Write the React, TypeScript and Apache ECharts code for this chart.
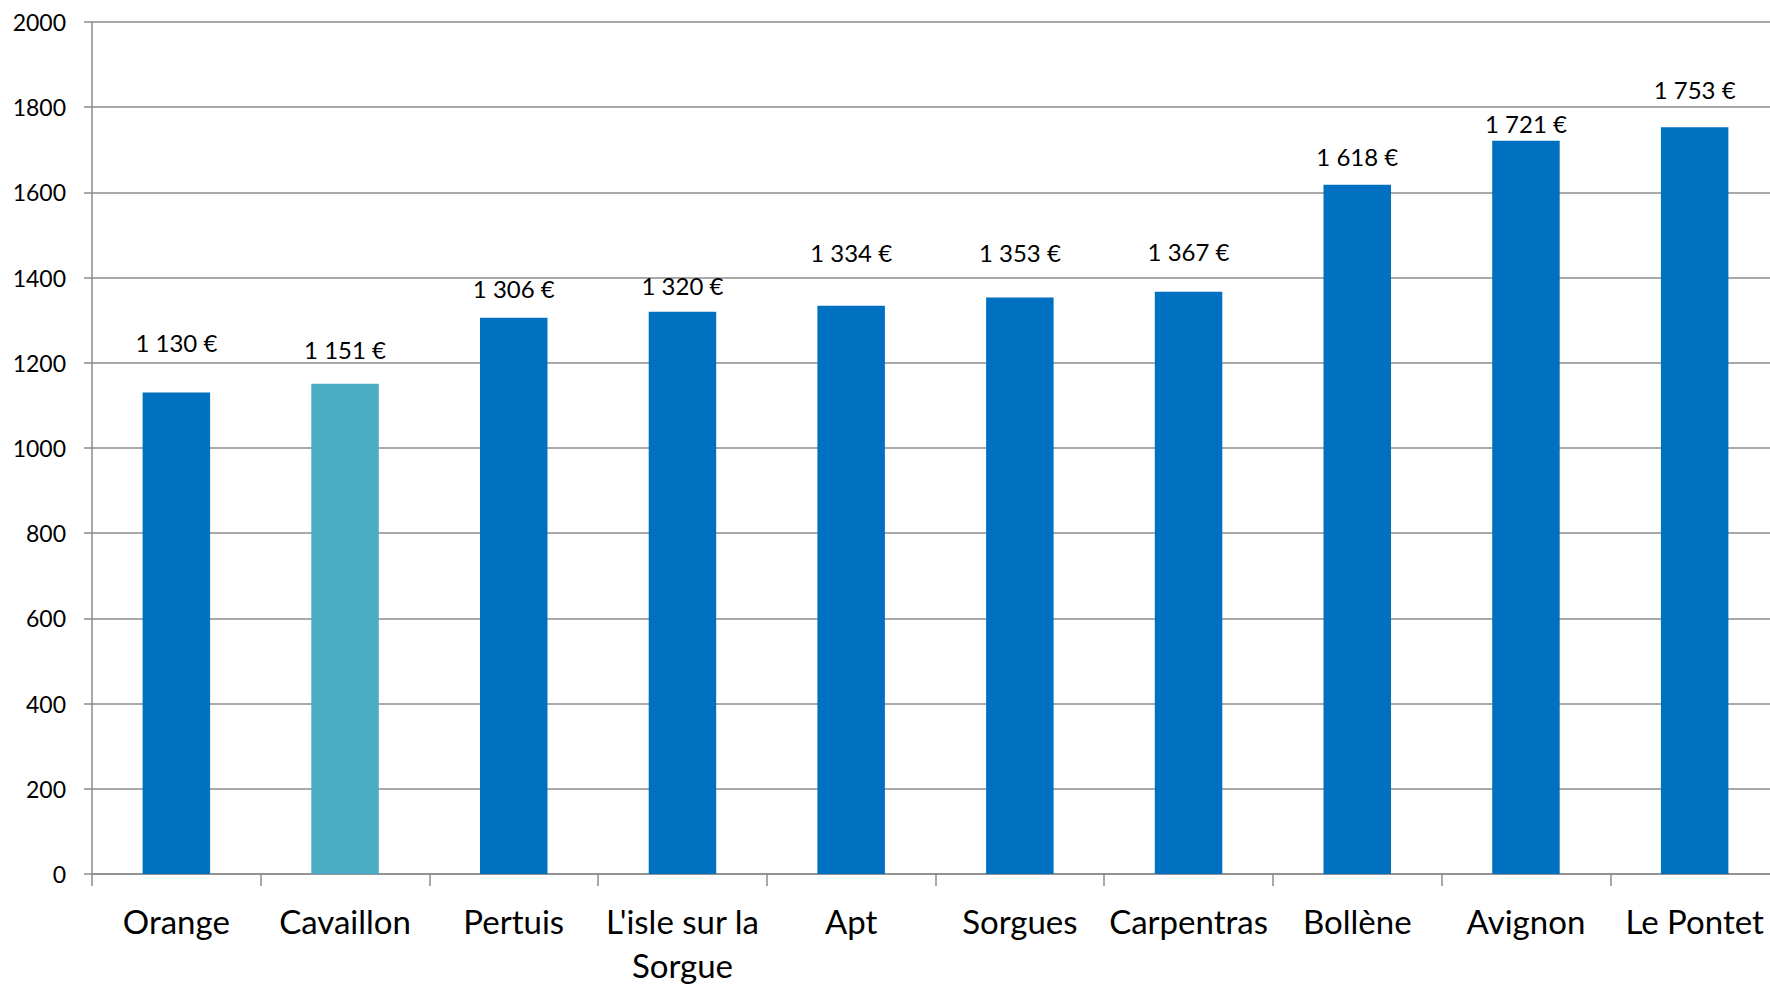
import React, { useEffect, useRef } from "react";
import * as echarts from "echarts";

const categories: string[] = [
  "Orange",
  "Cavaillon",
  "Pertuis",
  "L'isle sur la Sorgue",
  "Apt",
  "Sorgues",
  "Carpentras",
  "Bollène",
  "Avignon",
  "Le Pontet",
];
const values: number[] = [1130, 1151, 1306, 1320, 1334, 1353, 1367, 1618, 1721, 1753];
const highlightIndex = 1;
const yTicks = { min: 0, max: 2000, interval: 200 };

// label gap above each bar (styling only, hand placed as in the source)
const labelGap: number[] = [38, 22, 17, 14, 41, 33, 28, 16, 5, 26];

const BLUE = "#0070C0";
const AQUA = "#4BACC6";
const GRID = "#8c8c8c";
const FONT = "Lato, 'Open Sans', sans-serif";

function fmtEuro(v: number): string {
  const th = Math.floor(v / 1000);
  const rest = String(v % 1000).padStart(3, "0");
  return th > 0 ? `${th} ${rest} €` : `${v} €`;
}

function wrap(s: string, max: number): string {
  const words = s.split(" ");
  const lines: string[] = [];
  let cur = "";
  for (const w of words) {
    const cand = cur ? cur + " " + w : w;
    if (cand.length > max && cur) {
      lines.push(cur);
      cur = w;
    } else cur = cand;
  }
  if (cur) lines.push(cur);
  return lines.join("\n");
}

export default function App() {
  const ref = useRef<HTMLDivElement>(null);
  useEffect(() => {
    if (!ref.current) return;
    const chart = echarts.init(ref.current, undefined, { renderer: "svg" });
    chart.setOption({
      animation: false,
      backgroundColor: "#ffffff",
      grid: { left: 92, right: 0, top: 22, bottom: 112, containLabel: false },
      xAxis: {
        type: "category",
        data: categories,
        boundaryGap: true,
        axisLine: { show: true, lineStyle: { color: GRID, width: 1.5 } },
        axisTick: { show: true, alignWithLabel: false, length: 12, lineStyle: { color: GRID, width: 1.5 } },
        axisLabel: {
          interval: 0,
          margin: 25,
          color: "#000",
          fontFamily: FONT,
          fontSize: 33,
          lineHeight: 44,
          formatter: (v: string) => wrap(v, 13),
        },
      },
      yAxis: {
        type: "value",
        min: yTicks.min,
        max: yTicks.max,
        interval: yTicks.interval,
        axisLine: { show: true, lineStyle: { color: GRID, width: 1.5 } },
        axisTick: { show: true, length: 8, lineStyle: { color: GRID, width: 1.5 } },
        splitLine: { show: true, lineStyle: { color: GRID, width: 1.5 } },
        axisLabel: {
          margin: 26,
          color: "#000",
          fontFamily: FONT,
          fontSize: 23,
          formatter: (v: number) => String(v),
        },
      },
      series: [
        {
          type: "bar",
          barWidth: "40%",
          data: values.map((v, i) => ({
            value: v,
            itemStyle: { color: i === highlightIndex ? AQUA : BLUE },
            label: { distance: labelGap[i] },
          })),
          label: {
            show: true,
            position: "top",
            color: "#000",
            fontFamily: FONT,
            fontSize: 24,
            formatter: (p: any) => fmtEuro(p.value),
          },
        },
      ],
    });
    return () => chart.dispose();
  }, []);
  return (
    <div
      style={{
        position: "absolute",
        left: 0,
        top: 0,
        width: 1770,
        height: 987,
        overflow: "hidden",
        background: "#fff",
      }}
    >
      <div ref={ref} style={{ width: 1779, height: 987 }} />
    </div>
  );
}
